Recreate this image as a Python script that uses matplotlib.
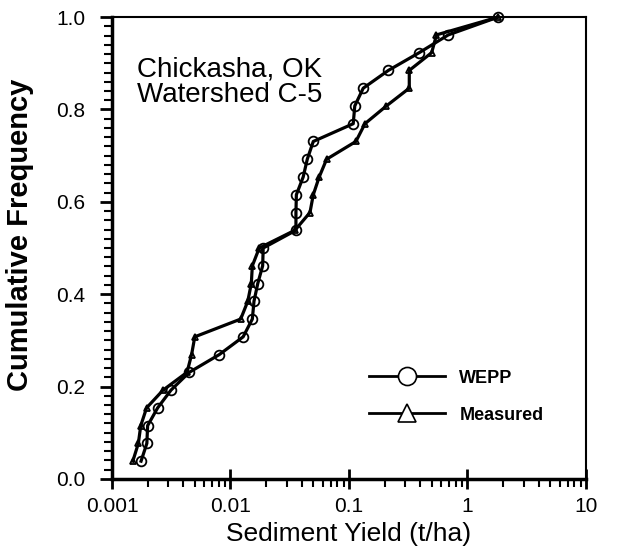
import matplotlib
matplotlib.use('Agg')
import matplotlib.pyplot as plt
from matplotlib.lines import Line2D
from matplotlib.ticker import LogLocator, MultipleLocator, FixedLocator

plt.rcParams['font.family'] = ['Liberation Sans', 'DejaVu Sans']

# cumulative frequency (26 events each)
freq = [i / 26 for i in range(1, 27)]

wepp_yield = [0.00176, 0.00197, 0.0020, 0.00243, 0.00315, 0.00449, 0.00805,
              0.0128, 0.0153, 0.0158, 0.0170, 0.0187, 0.0189, 0.0357, 0.0357,
              0.0360, 0.0411, 0.0445, 0.050, 0.1087, 0.112, 0.132, 0.215,
              0.392, 0.689, 1.81]
measured_yield = [0.0015, 0.00167, 0.00175, 0.00196, 0.0027, 0.0043, 0.0047,
                  0.0050, 0.0122, 0.0140, 0.0150, 0.0153, 0.0175, 0.035,
                  0.0469, 0.050, 0.0561, 0.0648, 0.1145, 0.1365, 0.207, 0.323,
                  0.323, 0.499, 0.548, 1.81]

x_ticks = [0.001, 0.01, 0.1, 1, 10]
x_labels = ['0.001', '0.01', '0.1', '1', '10']
y_ticks = [0.0, 0.2, 0.4, 0.6, 0.8, 1.0]

fig = plt.figure(figsize=(6.22, 5.53), dpi=100)
ax = fig.add_axes([0.180, 0.134, 0.762, 0.835])

ax.plot(wepp_yield, freq, color='black', linewidth=2.3, marker='o', markersize=7,
        markerfacecolor='none', markeredgewidth=1.3, clip_on=False)
ax.plot(measured_yield, freq, color='black', linewidth=2.3, marker='^', markersize=5,
        markerfacecolor='none', markeredgewidth=1.3, clip_on=False)

ax.set_xscale('log')
ax.set_xlim(0.001, 10)
ax.set_ylim(0, 1.0)
ax.xaxis.set_major_locator(FixedLocator(x_ticks))
ax.set_xticklabels(x_labels)
ax.xaxis.set_minor_locator(LogLocator(base=10, subs=range(2, 10)))
ax.xaxis.set_minor_formatter(plt.NullFormatter())
ax.set_yticks(y_ticks)
ax.set_yticklabels([f'{v:.1f}' for v in y_ticks])
ax.yaxis.set_minor_locator(MultipleLocator(0.02))

ax.tick_params(which='major', direction='out', length=9, width=2, labelsize=15)
ax.tick_params(which='minor', direction='out', length=6, width=1.5)
ax.tick_params(axis='x', which='major', direction='inout', length=14, pad=6)
ax.tick_params(axis='y', which='major', pad=10)

for side in ['left', 'bottom']:
    ax.spines[side].set_linewidth(2.5)
for side in ['top', 'right']:
    ax.spines[side].set_linewidth(1.5)

ax.set_xlabel('Sediment Yield (t/ha)', fontsize=19, labelpad=4)
ax.set_ylabel('Cumulative Frequency', fontsize=21, weight='bold')
ax.yaxis.set_label_coords(-0.165, 0.528)

ax.text(0.052, 0.915, 'Chickasha, OK\nWatershed C-5', transform=ax.transAxes,
        fontsize=20, va='top', ha='left', linespacing=1.0)

handles = [Line2D([], [], color='black', linewidth=2, marker='o', markersize=13,
                  markerfacecolor='white', markeredgewidth=1.2),
           Line2D([], [], color='black', linewidth=2, marker='^', markersize=13,
                  markerfacecolor='white', markeredgewidth=1.2)]
leg = ax.legend(handles, ['WEPP', 'Measured'], loc='center left',
                bbox_to_anchor=(0.508, 0.178), frameon=False, handlelength=4.2,
                labelspacing=1.1, handletextpad=0.8,
                prop={'weight': 'bold', 'size': 13})

fig.savefig('out.png', dpi=100)
